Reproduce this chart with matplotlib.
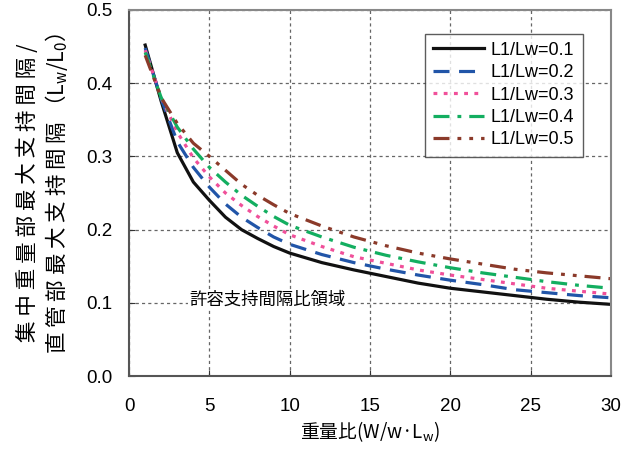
import numpy as np
import matplotlib.pyplot as plt

plt.rcParams['font.family'] = ['Liberation Sans', 'Noto Sans CJK JP', 'DejaVu Sans']

# weight ratio W/(w*Lw)
x = [1, 2, 3, 4, 5, 6, 7, 8, 9, 10, 12, 14, 16, 18, 20, 22, 24, 26, 28, 30]

r01 = [0.452, 0.375, 0.305, 0.265, 0.240, 0.217, 0.200, 0.188, 0.177, 0.168,
       0.155, 0.145, 0.136, 0.127, 0.120, 0.115, 0.110, 0.105, 0.101, 0.098]
r02 = [0.448, 0.378, 0.320, 0.285, 0.258, 0.235, 0.217, 0.203, 0.190, 0.180,
       0.166, 0.155, 0.146, 0.138, 0.131, 0.125, 0.118, 0.114, 0.110, 0.107]
r03 = [0.445, 0.380, 0.333, 0.298, 0.272, 0.250, 0.233, 0.218, 0.205, 0.193,
       0.177, 0.163, 0.154, 0.145, 0.138, 0.132, 0.126, 0.120, 0.116, 0.112]
r04 = [0.442, 0.380, 0.340, 0.310, 0.285, 0.265, 0.247, 0.232, 0.218, 0.206,
       0.190, 0.176, 0.165, 0.156, 0.148, 0.141, 0.135, 0.129, 0.124, 0.120]
r05 = [0.438, 0.380, 0.345, 0.318, 0.300, 0.281, 0.262, 0.247, 0.234, 0.222,
       0.205, 0.190, 0.178, 0.168, 0.160, 0.153, 0.146, 0.141, 0.137, 0.133]

labels = ['L1/Lw=0.1', 'L1/Lw=0.2', 'L1/Lw=0.3', 'L1/Lw=0.4', 'L1/Lw=0.5']

fig = plt.figure(figsize=(6.33, 4.51), dpi=100)
ax = fig.add_axes([0.204, 0.166, 0.761, 0.812])

ax.plot(x, r01, color='#111111', lw=2.3, ls='-', label=labels[0])
ax.plot(x, r02, color='#2155a8', lw=2.3, ls=(0, (5, 3)), label=labels[1])
ax.plot(x, r03, color='#f0509a', lw=2.3, ls=(0, (1.2, 2)), label=labels[2])
ax.plot(x, r04, color='#13ae60', lw=2.3, ls=(0, (5, 2.5, 1.2, 2.5)), label=labels[3])
ax.plot(x, r05, color='#8b3a2a', lw=2.3, ls=(0, (5, 2.5, 1.2, 2.5, 1.2, 2.5)), label=labels[4])

ax.set_xlim(0, 30)
ax.set_ylim(0, 0.5)
ax.set_xticks([0, 5, 10, 15, 20, 25, 30])
ax.set_yticks([0.0, 0.1, 0.2, 0.3, 0.4, 0.5])
ax.set_yticklabels(['0.0', '0.1', '0.2', '0.3', '0.4', '0.5'])
ax.grid(True, color='#666666', ls=(0, (2.5, 2.5)), lw=0.9)
ax.tick_params(direction='in', length=4, labelsize=13.5, color='#333333')
ax.tick_params(axis='x', pad=16)
ax.tick_params(axis='y', pad=12)
for s in ax.spines.values():
    s.set_color('#888888')
    s.set_linewidth(1.5)
ax.spines['left'].set_color('#555555')
ax.spines['bottom'].set_color('#555555')

jp = 'Noto Sans CJK JP'
ax.set_xlabel('重量比(W/w·L$_\\mathregular{w}$)', fontsize=13.5, labelpad=3, family=jp)
ax.set_ylabel('集 中 重 量 部 最 大 支 持 間 隔 /\n直 管 部 最 大 支 持 間 隔 （L$_\\mathregular{w}$/L$_\\mathregular{0}$）',
              fontsize=15.5, labelpad=12, linespacing=1.15, family=jp)

ax.text(8.65, 0.104, '許容支持間隔比領域', fontsize=12.5, ha='center', va='center',
        bbox=dict(facecolor='white', edgecolor='none', pad=1))

leg = ax.legend(loc='upper right', bbox_to_anchor=(0.96, 0.96), fontsize=13,
                frameon=True, fancybox=False, edgecolor='#333333',
                handlelength=2.8, handletextpad=0.4, labelspacing=0.3, borderpad=0.45)
leg.get_frame().set_linewidth(1.0)

fig.savefig('out.png', dpi=100)
